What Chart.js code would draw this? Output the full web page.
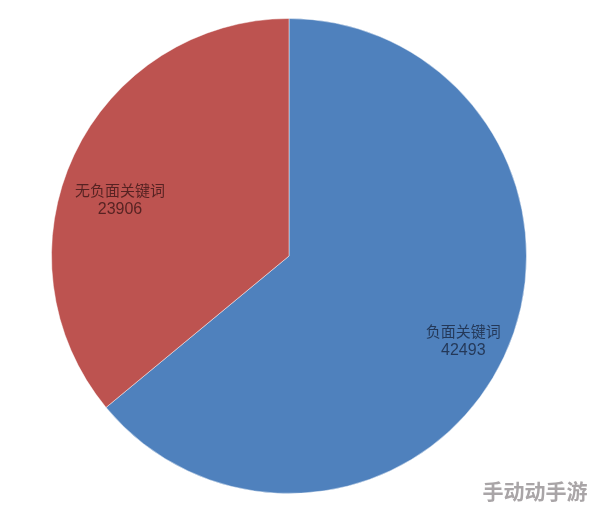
<!DOCTYPE html>
<html>
<head>
<meta charset="utf-8">
<script src="https://cdn.jsdelivr.net/npm/chart.js@4/dist/chart.umd.min.js"></script>
<style>
  html, body { margin: 0; padding: 0; background: #fff; }
  #wrap { width: 594px; height: 513px; position: relative; }
</style>
</head>
<body>
<div id="wrap"><canvas id="pieChart"></canvas></div>
<script>
// 데이터
const categories = ['负面关键词', '无负面关键词'];
const values = [42493, 23906];
const sliceColors = ['#4f81bd', '#bd5350'];
const labelColors = ['rgba(28, 44, 70, 0.85)', 'rgba(60, 22, 22, 0.8)'];

// 조각 안에 라벨 그리기
const sliceLabels = {
    id: 'sliceLabels',
    afterDatasetsDraw(chart, args, opts) {
        const ctx = chart.ctx;
        const meta = chart.getDatasetMeta(0);
        meta.data.forEach((arc, i) => {
            const p = arc.getProps(['x', 'y', 'startAngle', 'endAngle', 'outerRadius'], true);
            const angle = (p.startAngle + p.endAngle) / 2 + (opts.angleShift[i] || 0) * Math.PI / 180;
            const r = p.outerRadius * opts.radiusFrac[i];
            const x = p.x + Math.cos(angle) * r;
            const y = p.y + Math.sin(angle) * r;
            ctx.save();
            ctx.fillStyle = labelColors[i];
            ctx.textAlign = 'center';
            ctx.textBaseline = 'middle';
            ctx.font = '15px "Noto Sans CJK SC", sans-serif';
            ctx.fillText(categories[i], x, y - 9);
            ctx.font = '16px "Liberation Sans", Arial, sans-serif';
            ctx.fillText(String(values[i]), x, y + 10);
            ctx.restore();
        });
    }
};

// 오른쪽 아래 워터마크
const watermark = {
    id: 'watermark',
    afterDraw(chart) {
        const ctx = chart.ctx;
        ctx.save();
        ctx.font = 'bold 21px "Noto Sans CJK SC", sans-serif';
        ctx.textAlign = 'center';
        ctx.textBaseline = 'middle';
        ctx.lineWidth = 3;
        ctx.strokeStyle = 'rgba(255, 255, 255, 0.9)';
        ctx.strokeText('手动动手游', 535, 491);
        ctx.fillStyle = '#a9a5a7';
        ctx.fillText('手动动手游', 535, 491);
        ctx.restore();
    }
};

const pieCtx = document.getElementById('pieChart').getContext('2d');
new Chart(pieCtx, {
    type: 'pie',
    data: {
        labels: categories,
        datasets: [{
            data: values,
            backgroundColor: sliceColors,
            borderColor: 'rgba(255, 255, 255, 0.45)',
            borderWidth: 1
        }]
    },
    options: {
        responsive: true,
        maintainAspectRatio: false,
        animation: false,
        layout: { padding: { top: 18, bottom: 19, left: 0, right: 16 } },
        plugins: {
            legend: { display: false },
            tooltip: { enabled: false },
            sliceLabels: { radiusFrac: [0.815, 0.75], angleShift: [0.6, -6.8] }
        }
    },
    plugins: [sliceLabels, watermark]
});
</script>
</body>
</html>
